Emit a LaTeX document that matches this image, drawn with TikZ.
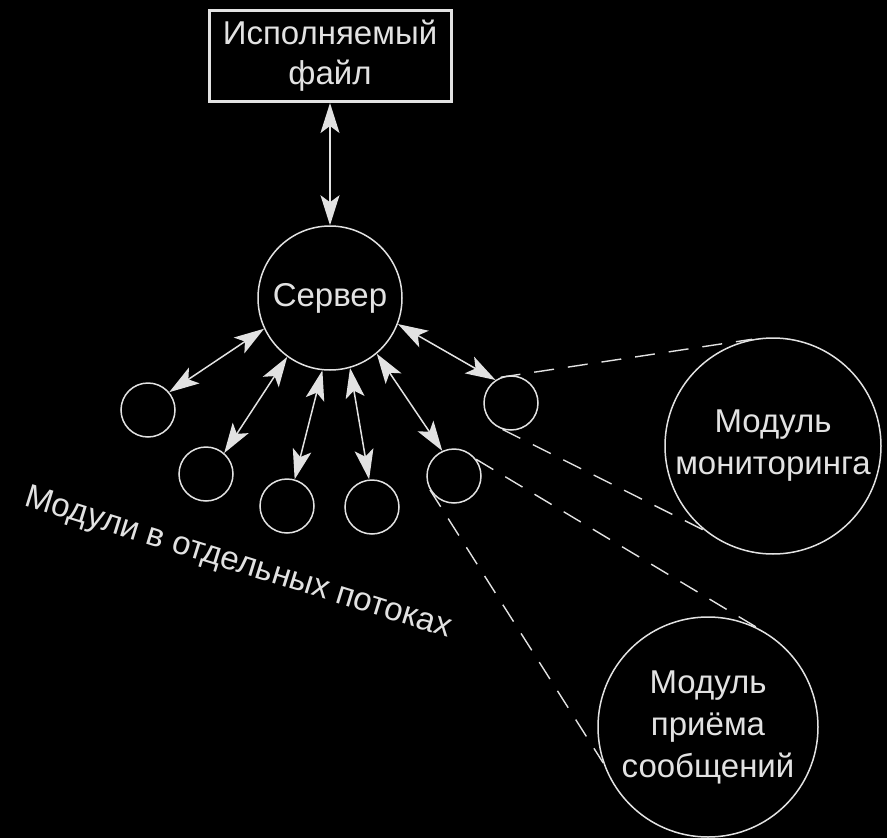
\documentclass[tikz,border=0pt]{standalone}
\usepackage{fontspec}
\setmainfont{Liberation Sans}
\usetikzlibrary{arrows.meta}
\definecolor{fg}{RGB}{226,226,226}

\begin{document}
\begin{tikzpicture}[x=1pt, y=-1pt,
	modcircle/.style={shape=circle, draw=fg, line width=1.5pt, minimum size=54pt, inner sep=0pt},
	bigcircle/.style={shape=circle, draw=fg, line width=1.5pt, align=center, text=fg, inner sep=0pt, font=\fontsize{33}{42}\selectfont},
	link/.style={draw=fg, line width=1.5pt, {Stealth[length=30pt, width=19pt, inset=7pt]}-{Stealth[length=30pt, width=19pt, inset=7pt]}},
	zoomline/.style={draw=fg, line width=1.4pt, dash pattern={on 20pt off 14pt}}]
	% Background:
	\fill[black] (0, 0) rectangle (887, 838);
	\useasboundingbox (0, 0) rectangle (887, 838);
	% Nodes:
	\node[shape=rectangle, draw=fg, line width=3pt, minimum width=242pt, minimum height=91pt, align=center, text=fg, font=\fontsize{33}{40}\selectfont] (exe) at (330, 56) {Исполняемый\\файл};
	\node[bigcircle, minimum size=144pt] (server) at (330, 298) {Сервер};
	\node[modcircle] (m1) at (148, 410) {};
	\node[modcircle] (m2) at (206, 474) {};
	\node[modcircle] (m3) at (287, 506) {};
	\node[modcircle] (m4) at (372, 507) {};
	\node[modcircle] (m5) at (454, 476) {};
	\node[modcircle] (m6) at (511, 403) {};
	\node[bigcircle, minimum size=216pt] (monitor) at (773, 446) {Модуль\\мониторинга};
	\node[bigcircle, minimum size=220pt] (receiver) at (708, 727) {Модуль\\приёма\\сообщений};
	\node[text=fg, font=\fontsize{33}{40}\selectfont, rotate=-17.3] (threads) at (238, 564) {Модули в отдельных потоках};
	% Arrows:
	\draw[link] (exe.south) -- (server.north);
	\draw[link] (server.205.5) -- (m1.40.6);
	\draw[link] (server.234.6) -- (m2.49);
	\draw[link] (server.264.3) -- (m3.74);
	\draw[link] (server.286.7) -- (m4.96);
	\draw[link] (server.310) -- (m5.115);
	\draw[link] (server.339) -- (m6.124);
	% Dashed lines:
	\draw[zoomline] (m6.112) -- (monitor.101);
	\draw[zoomline] (m6.252) -- (monitor.231);
	\draw[zoomline] (m5.37) -- (receiver.63);
	\draw[zoomline] (m5.210) -- (receiver.199);
\end{tikzpicture}
\end{document}
